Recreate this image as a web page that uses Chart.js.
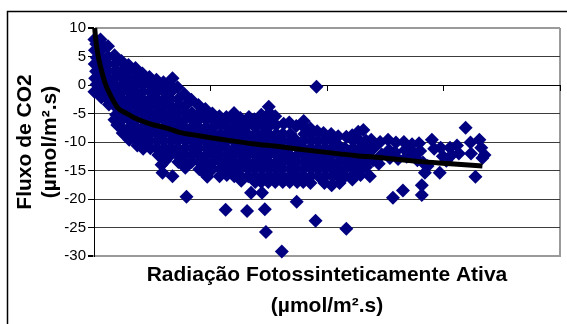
<!DOCTYPE html>
<html>
<head>
<meta charset="utf-8">
<script src="https://cdn.jsdelivr.net/npm/chart.js@4/dist/chart.umd.min.js"></script>
<style>
  html, body { margin: 0; padding: 0; background: #fff; }
  #wrap { width: 567px; height: 324px; }
</style>
</head>
<body>
<div id="wrap"><canvas id="c" width="567" height="324"></canvas></div>
<script>
// Photosynthetically active radiation (µmol/m².s) for each measurement
const par = [
  2,4,3,5,2, 10,12,9,11,
  28,31,27,33,29,32, 60,57,63,59,64,
  88,92,87,93,95,100, 118,122,117,124,119,123,
  148,152,147,153,149,155,151, 178,183,177,184,179,182,186,
  208,212,207,213,209,214,211, 238,243,237,244,239,242,
  268,273,267,274,269,272,276, 298,303,297,304,299,302,290,294,306,
  337,330,327,334,329,332,328,337, 358,363,357,364,359,362,
  388,393,387,394,389,392, 418,423,417,424,419,397,
  448,452,447,454,449,452, 478,483,477,484,479,482,486,
  508,513,507,514,509, 538,545,543,537,544,539,
  568,573,567,574,569,565, 601,603,597,604,599,602,
  628,633,627,634,629,632, 665,658,663,657,662,657,674,
  688,693,687,694,689,692, 718,723,717,724,719,721,733,738,
  750,753,747,754,749,752,748, 778,783,777,784,779,
  814,808,813,807,810,806, 838,843,837,844,839,
  868,857,873,867,872,870, 900,903,897,904,899,
  928,933,927,934,929, 955,958,963,957,964,951,
  985,993,987,994,989, 1018,1023,1017,1024,1020,
  1048,1050,1053,1047,1054, 1083,1078,1083,1077,1083,
  1108,1113,1107,1114,1109, 1134,1143,1137,1144,
  1156,1168,1173,1168,1184, 1190,1200,1198,
  1228,1235,1222,1262,1266,1270,1283,
  1296,1292,1305,1326,1330,1335,1342,
  1365,1372,1395,1400,1388,1407,1407,1420,1412,1432,
  1450,1460,1484,1488,1497,1512,1535,1528,
  1558,1566,1595,1616,1618,1637,1654,1662,1667,1676,
  31,29,32,30, 61,59,62,60, 91,89,92,90,88,
  121,119,122,120,118, 151,149,152,150,148,
  181,179,182,180,178,183, 211,209,212,210,208,
  241,239,242,240,238, 271,269,272,270,268,
  301,299,302,300,298,303, 331,329,332,330,328,
  361,359,362,360,358, 391,389,392,390,388,
  421,419,422,420, 451,449,452,450,
  481,479,482,480,478, 511,509,512,510,
  541,539,542, 571,569,572,570,568,
  601,599,602,600, 631,629,632,630,628,
  661,659,662,660, 691,689,692,690,
  721,719,722,720,718, 751,749,752,750,748,
  781,779,782,780,778, 811,809,812,810,
  841,839,842,840, 871,869,872,
  901,899,902,900,898, 931,929,932,930,
  961,959,962, 991,989,992,
  1021,1019,1022, 1051,1049,1052,
  1081,1079, 1111,1109,1112, 1141,1139,1142, 1171,1169
];

// CO2 flux (µmol/m².s) for each measurement, same order as par
const co2Flux = [
  8.0,6.1,3.7,1.2,-1.2, 7.2,4.8,2.4,0.1,
  8.0,7.2,4.9,2.5,0,-2.2, 6.8,3.7,1.2,-1.2,-3.4,
  5.2,2.5,0,-2.5,-5.2,-7.0, 4.2,1.4,-1.2,-3.7,-6.1,-8.4,
  3.5,2.4,0,-2.5,-4.9,-7.4,-9.6, 3.0,1.2,-1.2,-3.7,-6.1,-8.6,-10.6,
  2.0,0.1,-2.5,-4.9,-7.4,-9.8,-11.2, 1.4,-1.2,-3.7,-6.1,-8.6,-11.1,
  0.9,0,-2.5,-4.9,-7.4,-9.8,-12.3, 0.5,-1.2,-3.7,-6.1,-8.6,-11.1,-14.0,-15.4,-13.3,
  1.2,-0.2,-2.5,-4.9,-7.4,-9.8,-12.3,-16.0, -0.4,-3.7,-6.1,-8.6,-11.1,-13.5,
  -1.6,-4.9,-7.4,-9.8,-12.3,-14.5, -2.6,-6.1,-8.6,-11.1,-13.5,-19.6,
  -3.5,-6.0,-7.4,-9.8,-12.3,-14.8, -4.2,-6.1,-8.6,-11.1,-13.5,-15.8,-16.1,
  -5.0,-7.4,-9.8,-12.3,-14.7, -5.5,-6.8,-8.6,-11.1,-13.5,-16.0,
  -5.6,-7.4,-9.8,-12.3,-14.7,-21.9, -4.9,-6.1,-8.6,-11.1,-13.5,-16.0,
  -5.8,-7.4,-9.8,-12.3,-14.7,-16.8, -5.6,-8.6,-11.1,-13.5,-16.0,-22.1,-18.9,
  -6.0,-7.4,-9.8,-12.3,-14.7,-17.0, -5.2,-8.6,-11.1,-13.5,-16.0,-18.9,-21.8,-25.8,
  -3.8,-4.9,-7.4,-9.8,-12.3,-14.7,-17.0, -5.5,-8.6,-11.1,-13.5,-16.0,
  -6.8,-9.8,-12.3,-14.7,-17.0,-29.2, -6.6,-8.6,-11.1,-13.5,-16.0,
  -7.2,-9.3,-12.3,-14.7,-17.0,-20.5, -6.3,-8.6,-11.1,-13.5,-16.0,
  -7.6,-9.8,-12.3,-14.7,-17.2, -0.3,-8.1,-11.1,-13.5,-16.0,-23.8,
  -8.4,-9.8,-12.3,-14.7,-17.2, -8.6,-11.1,-13.5,-16.0,-17.6,
  -9.0,-10.6,-12.3,-14.7,-17.2, -9.1,-11.1,-13.5,-16.0,-25.2,
  -8.8,-9.8,-12.3,-14.7,-16.6, -8.2,-11.1,-13.5,-15.8,
  -7.9,-9.8,-12.3,-14.4,-16.0, -9.6,-11.1,-13.2,
  -10.0,-12.2,-13.8,-9.6,-11.4,-12.8,-19.8,
  -10.1,-11.8,-13.0,-18.5,-10.0,-11.4,-12.6,
  -10.4,-11.9,-10.2,-11.6,-13.2,-17.6,-19.3,-15.4,-13.6,-14.2,
  -9.6,-11.2,-15.4,-11.0,-12.5,-13.3,-12.3,-11.0,
  -10.6,-12.0,-7.5,-10.1,-12.0,-16.1,-9.6,-11.0,-12.8,-12.3,
  6.1,3.7,1.2,-1.2, 4.9,2.5,0,-2.5, 3.7,1.2,-1.2,-3.7,-6.1,
  2.5,0,-2.5,-4.9,-7.4, 1.2,-1.2,-3.7,-6.1,-8.6,
  2.5,0,-2.5,-4.9,-7.4,-9.8, 1.2,-1.2,-3.7,-6.1,-8.6,
  0,-2.5,-4.9,-7.4,-9.8, -1.2,-3.7,-6.1,-8.6,-11.1,
  0,-2.5,-4.9,-7.4,-9.8,-12.3, -1.2,-3.7,-6.1,-8.6,-11.1,
  -2.5,-4.9,-7.4,-9.8,-12.3, -3.7,-6.1,-8.6,-11.1,-13.5,
  -4.9,-7.4,-9.8,-12.3, -8.6,-11.1,-13.5,-5.0,
  -7.4,-9.8,-12.3,-14.7,-5.5, -6.1,-8.6,-11.1,-13.5,
  -9.8,-12.3,-14.7, -8.6,-11.1,-13.5,-15.8,-6.3,
  -7.4,-9.8,-12.3,-14.7, -6.5,-8.6,-11.1,-13.5,-16.0,
  -7.0,-9.8,-12.3,-14.7, -8.6,-11.1,-13.5,-16.0,
  -6.8,-9.8,-12.3,-14.7,-17.0, -6.1,-8.6,-11.1,-13.5,-16.0,
  -7.0,-9.8,-12.3,-14.7,-17.0, -8.6,-11.1,-13.5,-16.0,
  -9.8,-12.3,-14.7,-17.0, -10.8,-13.5,-16.0,
  -7.4,-9.8,-12.3,-14.7,-17.0, -8.6,-11.1,-13.5,-16.0,
  -9.8,-12.3,-14.7, -11.1,-13.5,-16.0,
  -9.8,-12.3,-14.7, -11.5,-13.5,-16.0,
  -12.3,-14.7, -11.1,-13.5,-15.8, -9.8,-12.3,-14.7, -11.1,-13.5
];

// Logarithmic trend line through the measurements
const trendPar  = [3, 8, 17, 30, 47, 68, 102, 140, 175, 240, 316, 367, 450, 559, 680, 793, 950, 1126, 1220, 1390, 1530, 1667];
const trendFlux = [10, 7.8, 5.3, 2.9, 0.4, -1.6, -4.0, -5.0, -5.8, -6.8, -7.6, -8.3, -8.9, -9.6, -10.3, -10.8, -11.6, -12.4, -12.7, -13.4, -13.8, -14.2];

// Axis ranges and labels
const yMin = -30, yMax = 10, yStep = 5;
const xMin = 0, xMax = 2000, xStep = 500;
const yTitle = ['Fluxo de CO2', '(µmol/m².s)'];
const xTitle = ['Radiação Fotossinteticamente Ativa', '(µmol/m².s)'];

const FONT = "'Liberation Sans', Arial, sans-serif";
const NAVY = '#000080';
const FRAME_GREY = '#9a9a9a';

// White page plus the outer chart border (left and top edges)
const outerFrame = {
  id: 'outerFrame',
  beforeDraw(chart) {
    const c = chart.ctx;
    c.save();
    c.fillStyle = '#fff';
    c.fillRect(0, 0, chart.width, chart.height);
    c.strokeStyle = '#000';
    c.lineWidth = 1.5;
    c.beginPath();
    c.moveTo(7.5, chart.height);
    c.lineTo(7.5, 11.5);
    c.lineTo(chart.width, 11.5);
    c.stroke();
    c.restore();
  }
};

const isEdge = v => v === yMax || v === yMin;

new Chart(document.getElementById('c'), {
  type: 'scatter',
  data: {
    datasets: [
      {
        type: 'line',
        label: 'Log',
        data: trendPar.map((x, i) => ({ x, y: trendFlux[i] })),
        borderColor: '#000',
        borderWidth: 5,
        pointRadius: 0,
        cubicInterpolationMode: 'monotone',
        fill: false,
        order: 0,
        clip: false
      },
      {
        type: 'scatter',
        label: 'Fluxo de CO2',
        data: par.map((x, i) => ({ x, y: co2Flux[i] })),
        pointStyle: 'rectRot',
        pointRadius: 7,
        pointHoverRadius: 7,
        backgroundColor: NAVY,
        borderWidth: 0,
        order: 1,
        clip: false
      }
    ]
  },
  options: {
    responsive: false,
    animation: false,
    devicePixelRatio: 1,
    layout: { padding: { left: 0, top: 28, right: 4, bottom: 0 } },
    plugins: { legend: { display: false }, tooltip: { enabled: false } },
    scales: {
      x: {
        type: 'linear',
        position: 'bottom',
        min: xMin, max: xMax,
        ticks: { display: false, stepSize: xStep },
        grid: {
          drawTicks: false,
          color: c => c.tick && c.tick.value === xMax ? FRAME_GREY : 'rgba(0,0,0,0)',
          lineWidth: c => c.tick && c.tick.value === xMax ? 2 : 1
        },
        border: { color: FRAME_GREY, width: 2 },
        title: {
          display: true,
          text: xTitle,
          color: '#000',
          font: { family: FONT, size: 21, weight: 'bold', lineHeight: 1.48 },
          padding: { top: 0, bottom: 2.5 }
        },
        afterFit: s => { s.height = 68; }
      },
      x2: {
        type: 'linear',
        axis: 'x',
        position: { y: 0 },
        min: xMin, max: xMax,
        ticks: { display: false, stepSize: xStep },
        grid: { drawOnChartArea: false, drawTicks: true, tickLength: 5, tickColor: '#000', color: '#000' },
        border: { color: '#000', width: 1 }
      },
      y: {
        type: 'linear',
        min: yMin, max: yMax,
        ticks: {
          stepSize: yStep,
          color: '#000',
          padding: 2,
          font: { family: FONT, size: 15 }
        },
        grid: {
          color: c => c.tick && isEdge(c.tick.value) ? FRAME_GREY : '#3c3c3c',
          lineWidth: c => c.tick && isEdge(c.tick.value) ? 2 : 1,
          tickColor: '#000',
          tickLength: 6
        },
        border: { color: '#000', width: 1 },
        title: {
          display: true,
          text: yTitle,
          color: '#000',
          font: { family: FONT, size: 21, weight: 'bold', lineHeight: 1.19 },
          padding: { top: 12.5, bottom: 0 }
        },
        afterFit: s => { s.width = 94; }
      }
    }
  },
  plugins: [outerFrame]
});
</script>
</body>
</html>
